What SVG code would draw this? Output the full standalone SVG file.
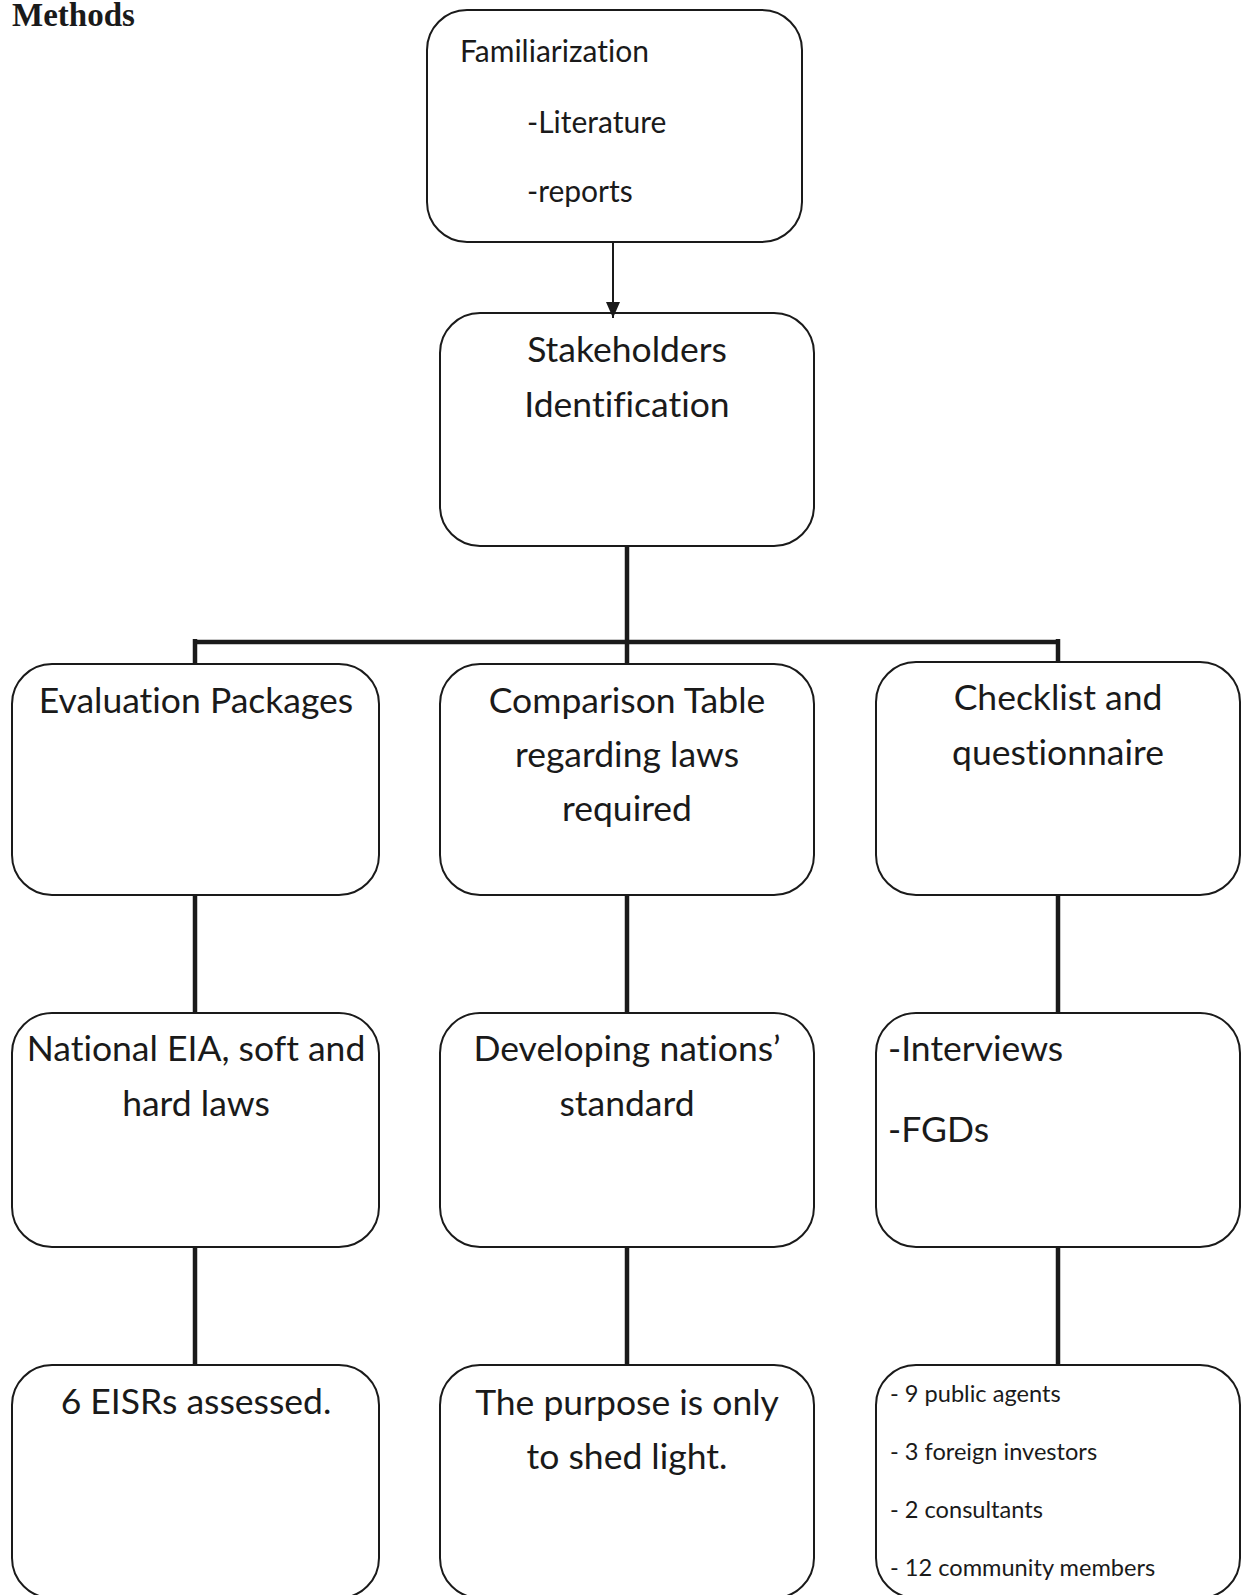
<svg xmlns="http://www.w3.org/2000/svg" width="1243" height="1595" viewBox="0 0 1243 1595">
<style>
.box{fill:#fff;stroke:#1a1a1a;stroke-width:2}
.t{font-family:Lato,"Open Sans","Liberation Sans",sans-serif;fill:#1a1a1a;font-variant-ligatures:none}
.big{font-size:35.5px}
.mid{font-size:30px}
.sm{font-size:23.6px}
.c{text-anchor:middle}
.con{stroke:#1a1a1a;stroke-width:4.5;fill:none}
</style>
<defs>
<marker id="ah" viewBox="0 0 16 14" refX="16" refY="7" markerWidth="16" markerHeight="14" markerUnits="userSpaceOnUse" orient="auto">
<path d="M0,0 L16,7 L0,14 z" fill="#1a1a1a"/>
</marker>
</defs>
<rect width="1243" height="1595" fill="#fff"/>
<text x="12" y="26" font-family="'Liberation Serif',serif" font-weight="bold" font-size="33" fill="#1a1a1a">Methods</text>
<g id="familiarization">
<rect class="box" x="427" y="10" width="375" height="232" rx="40"/>
<text class="t mid" x="460" y="62">Familiarization</text>
<text class="t mid" x="527" y="133">-Literature</text>
<text class="t mid" x="527" y="202">-reports</text>
</g>
<g id="stakeholders">
<rect class="box" x="440" y="313" width="374" height="233" rx="40"/>
<text class="t big c" x="627" y="362">Stakeholders</text>
<text class="t big c" x="627" y="417">Identification</text>
</g>
<g id="evaluation">
<rect class="box" x="12" y="664" width="367" height="231" rx="40"/>
<text class="t big c" x="196" y="713">Evaluation Packages</text>
</g>
<g id="comparison">
<rect class="box" x="440" y="664" width="374" height="231" rx="40"/>
<text class="t big c" x="627" y="713">Comparison Table</text>
<text class="t big c" x="627" y="767">regarding laws</text>
<text class="t big c" x="627" y="821">required</text>
</g>
<g id="checklist">
<rect class="box" x="876" y="662" width="364" height="233" rx="40"/>
<text class="t big c" x="1058" y="710">Checklist and</text>
<text class="t big c" x="1058" y="765">questionnaire</text>
</g>
<g id="national">
<rect class="box" x="12" y="1013" width="367" height="234" rx="40"/>
<text class="t big c" x="196" y="1061">National EIA, soft and</text>
<text class="t big c" x="196" y="1116">hard laws</text>
</g>
<g id="developing">
<rect class="box" x="440" y="1013" width="374" height="234" rx="40"/>
<text class="t big c" x="627" y="1061">Developing nations’</text>
<text class="t big c" x="627" y="1116">standard</text>
</g>
<g id="interviews">
<rect class="box" x="876" y="1013" width="364" height="234" rx="40"/>
<text class="t big" x="888" y="1061">-Interviews</text>
<text class="t big" x="888" y="1142">-FGDs</text>
</g>
<g id="eisrs">
<rect class="box" x="12" y="1365" width="367" height="233" rx="40"/>
<text class="t big c" x="196" y="1414">6 EISRs assessed.</text>
</g>
<g id="purpose">
<rect class="box" x="440" y="1365" width="374" height="233" rx="40"/>
<text class="t big c" x="627" y="1415">The purpose is only</text>
<text class="t big c" x="627" y="1469">to shed light.</text>
</g>
<g id="participants">
<rect class="box" x="876" y="1365" width="364" height="233" rx="40"/>
<text class="t sm" x="890" y="1402">- 9 public agents</text>
<text class="t sm" x="890" y="1460">- 3 foreign investors</text>
<text class="t sm" x="890" y="1518">- 2 consultants</text>
<text class="t sm" x="890" y="1576">- 12 community members</text>
</g>
<g id="connectors">
<line x1="613" y1="243" x2="613" y2="318" stroke="#1a1a1a" stroke-width="2" marker-end="url(#ah)"/>
<polyline class="con" points="627,546 627,642"/>
<line class="con" x1="195" y1="642" x2="1058" y2="642" stroke-width="6"/>
<line class="con" x1="195" y1="639" x2="195" y2="664"/>
<line class="con" x1="627" y1="642" x2="627" y2="664"/>
<line class="con" x1="1058" y1="639" x2="1058" y2="662"/>
<line class="con" x1="195" y1="895" x2="195" y2="1013"/>
<line class="con" x1="627" y1="895" x2="627" y2="1013"/>
<line class="con" x1="1058" y1="895" x2="1058" y2="1013"/>
<line class="con" x1="195" y1="1247" x2="195" y2="1365"/>
<line class="con" x1="627" y1="1247" x2="627" y2="1365"/>
<line class="con" x1="1058" y1="1247" x2="1058" y2="1365"/>
</g>
</svg>
